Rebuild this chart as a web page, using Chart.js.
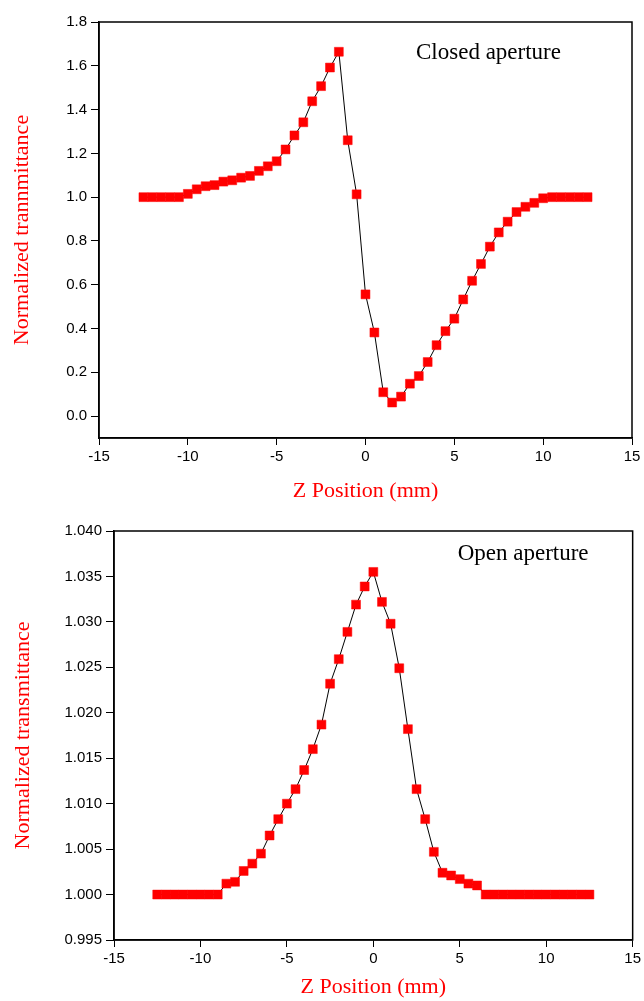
<!DOCTYPE html>
<html>
<head>
<meta charset="utf-8">
<script src="https://cdn.jsdelivr.net/npm/chart.js@4.4.1/dist/chart.umd.min.js"></script>
<style>
  body { margin: 0; background: #fff; }
  .box { position: absolute; left: 0; }
  canvas { display: block; }
</style>
</head>
<body>
<div class="box" style="top:0"><canvas id="closedChart" width="644" height="505"></canvas></div>
<div class="box" style="top:505px"><canvas id="openChart" width="644" height="496"></canvas></div>
<script>
// z positions (mm), shared by both scans
const zPositions = [-12.5, -12, -11.5, -11, -10.5, -10, -9.5, -9, -8.5, -8, -7.5, -7, -6.5, -6, -5.5, -5, -4.5, -4, -3.5, -3, -2.5, -2, -1.5, -1, -0.5,
    0, 0.5, 1, 1.5, 2, 2.5, 3, 3.5, 4, 4.5, 5, 5.5, 6, 6.5, 7, 7.5, 8, 8.5, 9, 9.5, 10, 10.5, 11, 11.5, 12, 12.5];

// closed aperture normalized transmittance
const closedValues = [1.0, 1.0, 1.0, 1.0, 1.0, 1.015, 1.036, 1.05, 1.055, 1.071, 1.077, 1.089, 1.097, 1.12, 1.141, 1.164, 1.218, 1.282, 1.342, 1.438, 1.507, 1.592, 1.664, 1.26, 1.013,
    0.556, 0.382, 0.109, 0.062, 0.089, 0.148, 0.183, 0.247, 0.324, 0.388, 0.445, 0.533, 0.618, 0.695, 0.774, 0.839, 0.888, 0.932, 0.956, 0.974, 0.995, 1.0, 1.0, 1.0, 1.0, 1.0];

// open aperture normalized transmittance
const openValues = [1.0, 1.0, 1.0, 1.0, 1.0, 1.0, 1.0, 1.0, 1.0012, 1.0014, 1.0026, 1.0034, 1.0045, 1.0065, 1.0083, 1.0100, 1.0116, 1.0137, 1.0160, 1.0187, 1.0232, 1.0259, 1.0289, 1.0319, 1.0339,
    1.0355, 1.0322, 1.0298, 1.0249, 1.0182, 1.0116, 1.0083, 1.0047, 1.0024, 1.0021, 1.0017, 1.0012, 1.0010, 1.0, 1.0, 1.0, 1.0, 1.0, 1.0, 1.0, 1.0, 1.0, 1.0, 1.0, 1.0, 1.0];

const xTicks = [-15, -10, -5, 0, 5, 10, 15];
const closedYTicks = [0.0, 0.2, 0.4, 0.6, 0.8, 1.0, 1.2, 1.4, 1.6, 1.8];
const openYTicks = [0.995, 1.000, 1.005, 1.010, 1.015, 1.020, 1.025, 1.030, 1.035, 1.040];

// frame around plot area + label text inside it
const framePlugin = {
    id: 'frame',
    afterDraw(chart) {
        const ctx = chart.ctx;
        const a = chart.chartArea;
        ctx.save();
        ctx.strokeStyle = '#000';
        ctx.lineWidth = 1.5;
        ctx.strokeRect(a.left, a.top, a.right - a.left, a.bottom - a.top);
        const note = chart.options.plugins.frame;
        if (note && note.text) {
            ctx.fillStyle = '#000';
            ctx.font = '23px "Liberation Serif"';
            ctx.textBaseline = 'alphabetic';
            ctx.fillText(note.text, a.right - note.dx, a.top + note.dy);
        }
        ctx.restore();
    }
};

function makeChart(id, values, yTicks, yMin, yMax, digits, opts) {
    const ctx = document.getElementById(id).getContext('2d');
    return new Chart(ctx, {
        type: 'line',
        data: {
            datasets: [{
                data: zPositions.map((z, i) => ({ x: z, y: values[i] })),
                borderColor: '#000',
                borderWidth: 1,
                tension: 0,
                pointStyle: 'rect',
                pointRadius: 6.3,
                pointBackgroundColor: '#ff0000',
                pointBorderColor: '#ff0000',
                pointBorderWidth: 0.5
            }]
        },
        options: {
            responsive: false,
            animation: false,
            events: [],
            layout: { padding: opts.padding },
            plugins: {
                legend: { display: false },
                tooltip: { enabled: false },
                frame: { text: opts.note, dx: opts.noteDx, dy: opts.noteDy }
            },
            scales: {
                x: {
                    type: 'linear',
                    min: -15,
                    max: 15,
                    afterBuildTicks: s => { s.ticks = xTicks.map(v => ({ value: v })); },
                    afterFit: s => { s.height = opts.xHeight; },
                    grid: { drawOnChartArea: false, color: '#000', tickLength: 7, tickWidth: 1 },
                    border: { color: '#000', width: 1.5 },
                    ticks: {
                        color: '#000',
                        padding: 3,
                        maxRotation: 0,
                        font: { family: '"Liberation Sans"', size: 15 }
                    },
                    title: {
                        display: true,
                        text: 'Z Position (mm)',
                        color: '#ff0000',
                        font: { family: '"Liberation Serif"', size: 22, lineHeight: 1.2 },
                        padding: { top: 0, bottom: 1 }
                    }
                },
                y: {
                    type: 'linear',
                    min: yMin,
                    max: yMax,
                    afterBuildTicks: s => { s.ticks = yTicks.map(v => ({ value: v })); },
                    afterFit: s => { s.width = opts.yWidth; },
                    grid: { drawOnChartArea: false, color: '#000', tickLength: 8, tickWidth: 1 },
                    border: { color: '#000', width: 1.5 },
                    ticks: {
                        color: '#000',
                        padding: 4,
                        callback: v => v.toFixed(digits),
                        font: { family: '"Liberation Sans"', size: 15 }
                    },
                    title: {
                        display: true,
                        text: opts.yTitle,
                        color: '#ff0000',
                        font: { family: '"Liberation Serif"', size: 22, lineHeight: 1.2 },
                        padding: { top: opts.yTitlePad, bottom: 0 }
                    }
                }
            }
        },
        plugins: [framePlugin]
    });
}

makeChart('closedChart', closedValues, closedYTicks, -0.1, 1.8, 1, {
    padding: { top: 22, right: 12, left: 0, bottom: 0 },
    xHeight: 67,
    yWidth: 99,
    yTitle: 'Normalized trannmittance',
    yTitlePad: 9,
    note: 'Closed aperture',
    noteDx: 216,
    noteDy: 37
});

makeChart('openChart', openValues, openYTicks, 0.995, 1.040, 3, {
    padding: { top: 26, right: 11, left: 0, bottom: 0 },
    xHeight: 61,
    yWidth: 114,
    yTitle: 'Normalized transmittance',
    yTitlePad: 10,
    note: 'Open aperture',
    noteDx: 175,
    noteDy: 29
});
</script>
</body>
</html>
